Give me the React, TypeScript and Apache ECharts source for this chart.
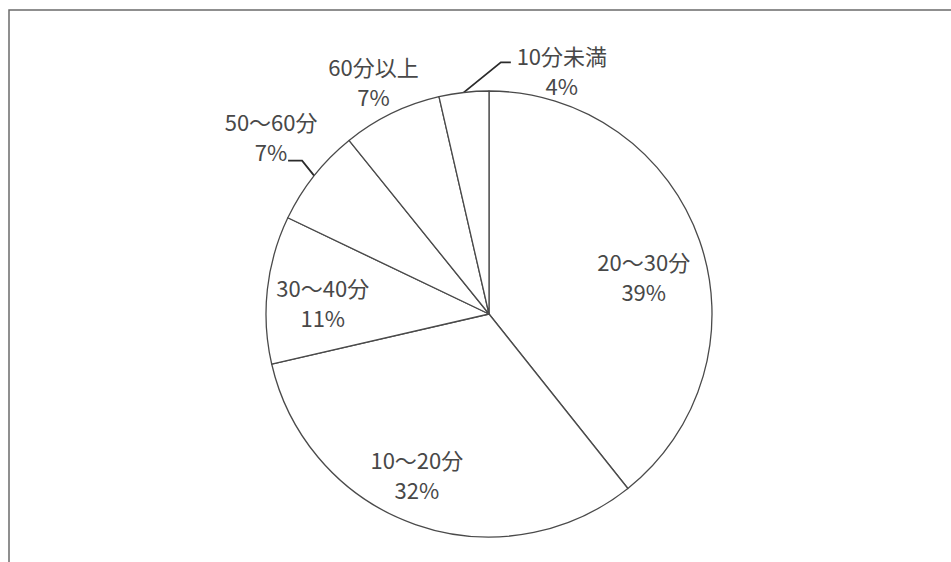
import React, { useEffect, useRef } from "react";
import * as echarts from "echarts";

const categories = ["20～30分", "10～20分", "30～40分", "50～60分", "60分以上", "10分未満"];
const shares = [39.3, 32.1, 10.7, 7.1, 7.2, 3.6];
const insideLabel = [true, true, true, false, false, false];

export default function App() {
  const ref = useRef<HTMLDivElement>(null);
  useEffect(() => {
    document.body.style.margin = "0";
    const chart = echarts.init(ref.current!, null, { renderer: "svg" });
    const fmt = (p: any) => `${p.name}\n${Math.round(p.percent)}%`;
    const text = {
      fontFamily: "'Noto Sans CJK JP', sans-serif",
      fontSize: 22,
      lineHeight: 30,
      color: "#484848",
    };
    const outsideOffsets: Record<number, { label: [number, number]; line?: [number, number][] }> = {
      3: { label: [-43, -40], line: [[-12, -15], [-26, -15]] },
      4: { label: [-18, -32] },
      5: { label: [98, -22], line: [[37, -30], [47, -30]] },
    };
    const insideShift: Record<number, [number, number]> = {
      0: [-6, 18],
      1: [-16, -1],
      2: [3, 7],
    };
    const center = [489, 314];
    const R = 223;

    chart.setOption({
      animation: false,
      graphic: [
        {
          type: "rect",
          silent: true,
          shape: { x: 9, y: 10, width: 1200, height: 1000 },
          style: { fill: "none", stroke: "#6b6b6b", lineWidth: 1.5 },
        },
      ],
      series: [
        {
          type: "pie",
          center,
          radius: [0, R],
          startAngle: 90,
          clockwise: true,
          avoidLabelOverlap: false,
          itemStyle: { color: "#ffffff", borderColor: "#4a4a4a", borderWidth: 1.3 },
          emphasis: { disabled: true },
          label: { position: "outside", formatter: fmt, ...text },
          labelLine: { length: 20, length2: 10, smooth: false, lineStyle: { color: "#2b2b2b", width: 1.8 } },
          labelLayout: (params: any) => {
            const o = outsideOffsets[params.dataIndex];
            const pts = params.labelLinePoints;
            if (!o || !pts || !pts[0]) return {};
            const [x0, y0] = pts[0];
            const line = o.line
              ? [[x0, y0], ...o.line.map(([dx, dy]) => [x0 + dx, y0 + dy])]
              : [[x0, y0], [x0, y0], [x0, y0]];
            return {
              x: x0 + o.label[0],
              y: y0 + o.label[1],
              align: "center",
              verticalAlign: "middle",
              labelLinePoints: line,
            };
          },
          data: categories.map((name, i) => ({
            name,
            value: shares[i],
            label: { show: !insideLabel[i] },
            labelLine: {
              show: !insideLabel[i],
              lineStyle: i === 4 ? { opacity: 0 } : undefined,
            },
          })),
        },
        {
          type: "pie",
          center,
          radius: [R * 0.5, R],
          startAngle: 90,
          clockwise: true,
          silent: true,
          avoidLabelOverlap: false,
          itemStyle: { color: "rgba(0,0,0,0)", borderWidth: 0 },
          emphasis: { disabled: true },
          label: { position: "inside", formatter: fmt, ...text },
          labelLine: { show: false },
          labelLayout: (params: any) => {
            const s = insideShift[params.dataIndex];
            if (!s) return {};
            return { dx: s[0], dy: s[1] };
          },
          data: categories.map((name, i) => ({
            name,
            value: shares[i],
            label: { show: insideLabel[i] },
          })),
        },
      ],
    });
    return () => chart.dispose();
  }, []);
  return <div ref={ref} style={{ width: 951, height: 562 }} />;
}
